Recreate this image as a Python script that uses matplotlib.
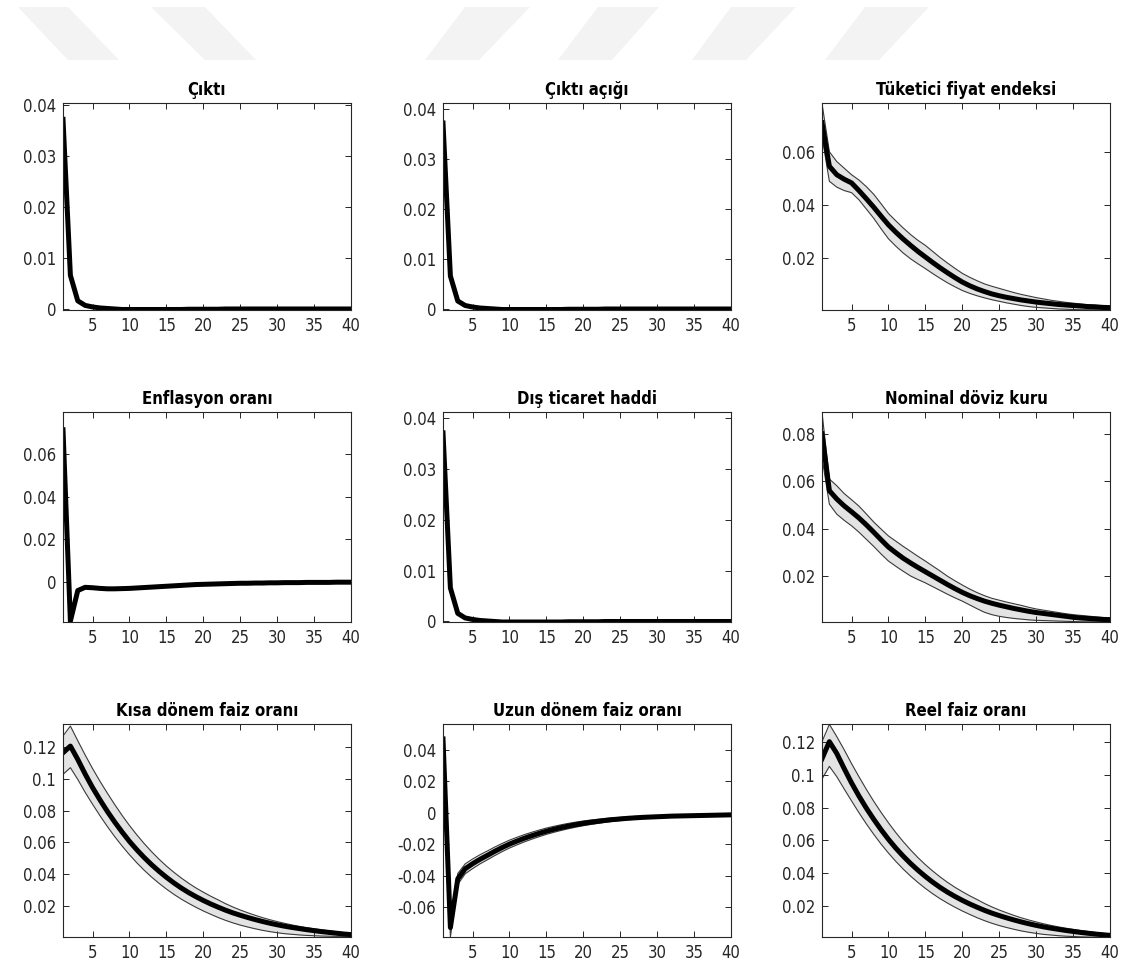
import numpy as np
import matplotlib
matplotlib.use("Agg")
import matplotlib.pyplot as plt
from matplotlib.patches import Polygon

plt.rcParams['font.family'] = ['DejaVu Sans']
plt.rcParams['font.stretch'] = 'condensed'

periods = np.arange(1, 41)

# --- Çıktı / Çıktı açığı / Dış ticaret haddi (bant görünmüyor)
cikti = [0.0372, 0.0066, 0.0016, 0.0007, 0.0004, 0.0002, 0.0001, 0.0, -0.0001, -0.0001,
         -0.0001, -0.0001, -0.0001, -0.0001, -0.0001, -0.0001, -0.0001, -0.00005, -0.00005, -0.00005,
         -0.00005, -0.00005, 0.0, 0.0, 0.0, 0.0, 0.0, 0.0, 0.0, 0.0,
         0.0, 0.0, 0.0, 0.0, 0.0, 0.0, 0.0, 0.0, 0.0, 0.0]
cikti_acigi = [0.0372, 0.0066, 0.0016, 0.0007, 0.0004, 0.0002, 0.0001, 0.0, -0.0001, -0.0001,
               -0.0001, -0.0001, -0.0001, -0.0001, -0.0001, -0.0001, -0.0001, -0.00005, -0.00005, -0.00005,
               -0.00005, -0.00005, 0.0, 0.0, 0.0, 0.0, 0.0, 0.0, 0.0, 0.0,
               0.0, 0.0, 0.0, 0.0, 0.0, 0.0, 0.0, 0.0, 0.0, 0.0]
dis_ticaret = [0.0371, 0.0066, 0.0016, 0.0007, 0.0004, 0.0002, 0.0001, 0.0, -0.0001, -0.0001,
               -0.0001, -0.0001, -0.0001, -0.0001, -0.0001, -0.0001, -0.0001, -0.00005, -0.00005, -0.00005,
               -0.00005, -0.00005, 0.0, 0.0, 0.0, 0.0, 0.0, 0.0, 0.0, 0.0,
               0.0, 0.0, 0.0, 0.0, 0.0, 0.0, 0.0, 0.0, 0.0, 0.0]

# --- Enflasyon oranı
enflasyon = [0.0712, -0.0182, -0.0039, -0.0024, -0.0026, -0.0029, -0.0031, -0.0031, -0.0030, -0.0029,
             -0.0027, -0.0025, -0.0023, -0.0021, -0.0019, -0.0017, -0.0015, -0.0013, -0.0011, -0.0010,
             -0.0009, -0.0008, -0.0007, -0.0006, -0.0005, -0.0005, -0.0004, -0.0004, -0.0003, -0.0003,
             -0.0002, -0.0002, -0.0002, -0.0001, -0.0001, -0.0001, -0.0001, 0.0, 0.0, 0.0]

# --- Tüketici fiyat endeksi
tfe = [0.0712, 0.0547, 0.0515, 0.0498, 0.0484, 0.0455, 0.0424, 0.0392, 0.0358, 0.0325,
       0.0297, 0.0271, 0.0247, 0.0224, 0.0203, 0.0182, 0.0162, 0.0143, 0.0125, 0.0108,
       0.0094, 0.0082, 0.0072, 0.0063, 0.0056, 0.0050, 0.0045, 0.0040, 0.0036, 0.0032,
       0.0029, 0.0026, 0.0023, 0.0021, 0.0019, 0.0017, 0.0015, 0.0014, 0.0012, 0.0011]
tfe_ust = [0.0785, 0.0602, 0.0565, 0.0540, 0.0515, 0.0495, 0.0470, 0.0441, 0.0405, 0.0368,
           0.0340, 0.0313, 0.0288, 0.0266, 0.0247, 0.0224, 0.0201, 0.0180, 0.0160, 0.0141,
           0.0126, 0.0113, 0.0101, 0.0092, 0.0084, 0.0076, 0.0068, 0.0061, 0.0055, 0.0049,
           0.0044, 0.0039, 0.0035, 0.0031, 0.0028, 0.0025, 0.0022, 0.0020, 0.0018, 0.0016]
tfe_alt = [0.0660, 0.0490, 0.0468, 0.0455, 0.0447, 0.0420, 0.0385, 0.0350, 0.0310, 0.0272,
           0.0244, 0.0218, 0.0196, 0.0177, 0.0159, 0.0140, 0.0122, 0.0105, 0.0090, 0.0076,
           0.0065, 0.0056, 0.0048, 0.0041, 0.0035, 0.0029, 0.0024, 0.0019, 0.0015, 0.0012,
           0.0010, 0.0008, 0.0006, 0.0005, 0.0004, 0.0003, 0.0003, 0.0003, 0.0003, 0.0003]

# --- Nominal döviz kuru
ndk = [0.0800, 0.0560, 0.0525, 0.0496, 0.0471, 0.0445, 0.0416, 0.0385, 0.0353, 0.0322,
       0.0298, 0.0275, 0.0255, 0.0236, 0.0218, 0.0200, 0.0182, 0.0164, 0.0147, 0.0131,
       0.0117, 0.0105, 0.0094, 0.0085, 0.0077, 0.0070, 0.0063, 0.0057, 0.0051, 0.0046,
       0.0042, 0.0038, 0.0034, 0.0030, 0.0026, 0.0023, 0.0021, 0.0019, 0.0017, 0.0016]
ndk_ust = [0.0890, 0.0609, 0.0581, 0.0548, 0.0522, 0.0495, 0.0462, 0.0428, 0.0398, 0.0369,
           0.0347, 0.0325, 0.0304, 0.0283, 0.0263, 0.0242, 0.0221, 0.0199, 0.0180, 0.0162,
           0.0145, 0.0130, 0.0117, 0.0106, 0.0098, 0.0090, 0.0083, 0.0076, 0.0068, 0.0061,
           0.0056, 0.0051, 0.0046, 0.0041, 0.0037, 0.0034, 0.0031, 0.0028, 0.0025, 0.0023]
ndk_alt = [0.0700, 0.0503, 0.0461, 0.0435, 0.0412, 0.0385, 0.0355, 0.0325, 0.0293, 0.0263,
           0.0241, 0.0220, 0.0200, 0.0185, 0.0171, 0.0155, 0.0139, 0.0123, 0.0108, 0.0094,
           0.0078, 0.0062, 0.0047, 0.0037, 0.0030, 0.0025, 0.0021, 0.0018, 0.0015, 0.0013,
           0.0012, 0.0011, 0.0010, 0.0009, 0.0008, 0.0007, 0.0007, 0.0007, 0.0007, 0.0007]

# --- Kısa dönem faiz oranı
kisa = [0.1164, 0.1206, 0.1122, 0.1030, 0.0945, 0.0868, 0.0795, 0.0728, 0.0665, 0.0606,
        0.0553, 0.0504, 0.0459, 0.0418, 0.0380, 0.0345, 0.0313, 0.0284, 0.0258, 0.0234,
        0.0212, 0.0192, 0.0173, 0.0156, 0.0141, 0.0127, 0.0114, 0.0102, 0.0091, 0.0081,
        0.0072, 0.0064, 0.0057, 0.0050, 0.0044, 0.0038, 0.0033, 0.0028, 0.0023, 0.0019]
kisa_ust = [0.1270, 0.1332, 0.1240, 0.1150, 0.1065, 0.0985, 0.0910, 0.0838, 0.0770, 0.0706,
            0.0647, 0.0592, 0.0541, 0.0494, 0.0451, 0.0412, 0.0376, 0.0343, 0.0313, 0.0286,
            0.0261, 0.0238, 0.0214, 0.0193, 0.0174, 0.0157, 0.0141, 0.0126, 0.0113, 0.0101,
            0.0090, 0.0080, 0.0071, 0.0063, 0.0056, 0.0049, 0.0043, 0.0037, 0.0031, 0.0026]
kisa_alt = [0.1028, 0.1070, 0.0996, 0.0915, 0.0840, 0.0768, 0.0700, 0.0636, 0.0577, 0.0522,
            0.0471, 0.0424, 0.0381, 0.0342, 0.0306, 0.0273, 0.0243, 0.0216, 0.0191, 0.0168,
            0.0147, 0.0127, 0.0109, 0.0093, 0.0079, 0.0067, 0.0056, 0.0046, 0.0038, 0.0031,
            0.0025, 0.0021, 0.0017, 0.0014, 0.0012, 0.0010, 0.0009, 0.0008, 0.0008, 0.0008]

# --- Uzun dönem faiz oranı
uzun = [0.0470, -0.0730, -0.0420, -0.0356, -0.0324, -0.0296, -0.0271, -0.0245, -0.0221, -0.0199,
        -0.0180, -0.0162, -0.0146, -0.0131, -0.0117, -0.0105, -0.0094, -0.0084, -0.0075, -0.0067,
        -0.0060, -0.0054, -0.0048, -0.0043, -0.0039, -0.0035, -0.0032, -0.0029, -0.0027, -0.0025,
        -0.0023, -0.0021, -0.0020, -0.0019, -0.0018, -0.0017, -0.0016, -0.0015, -0.0014, -0.0013]
uzun_ust = [0.0500, -0.0670, -0.0386, -0.0325, -0.0294, -0.0267, -0.0243, -0.0218, -0.0195, -0.0174,
            -0.0156, -0.0139, -0.0124, -0.0110, -0.0097, -0.0086, -0.0076, -0.0067, -0.0059, -0.0052,
            -0.0046, -0.0041, -0.0036, -0.0032, -0.0029, -0.0026, -0.0023, -0.0021, -0.0019, -0.0017,
            -0.0016, -0.0015, -0.0014, -0.0013, -0.0012, -0.0011, -0.0010, -0.0009, -0.0009, -0.0008]
uzun_alt = [0.0440, -0.0790, -0.0455, -0.0388, -0.0355, -0.0325, -0.0299, -0.0272, -0.0247, -0.0224,
            -0.0204, -0.0185, -0.0168, -0.0152, -0.0137, -0.0124, -0.0112, -0.0101, -0.0091, -0.0082,
            -0.0074, -0.0067, -0.0060, -0.0054, -0.0049, -0.0044, -0.0041, -0.0037, -0.0035, -0.0033,
            -0.0030, -0.0027, -0.0026, -0.0025, -0.0024, -0.0023, -0.0022, -0.0021, -0.0019, -0.0018]

# --- Reel faiz oranı
reel = [0.1100, 0.1204, 0.1132, 0.1040, 0.0952, 0.0872, 0.0798, 0.0730, 0.0666, 0.0607,
        0.0553, 0.0504, 0.0459, 0.0418, 0.0380, 0.0345, 0.0313, 0.0284, 0.0258, 0.0234,
        0.0212, 0.0192, 0.0173, 0.0156, 0.0141, 0.0127, 0.0114, 0.0102, 0.0091, 0.0081,
        0.0072, 0.0064, 0.0057, 0.0050, 0.0044, 0.0038, 0.0033, 0.0028, 0.0024, 0.0020]
reel_ust = [0.1204, 0.1310, 0.1235, 0.1155, 0.1070, 0.0990, 0.0913, 0.0840, 0.0772, 0.0708,
            0.0648, 0.0593, 0.0542, 0.0495, 0.0452, 0.0413, 0.0377, 0.0344, 0.0314, 0.0287,
            0.0262, 0.0239, 0.0215, 0.0194, 0.0175, 0.0158, 0.0142, 0.0127, 0.0114, 0.0102,
            0.0091, 0.0081, 0.0072, 0.0064, 0.0057, 0.0050, 0.0044, 0.0038, 0.0032, 0.0027]
reel_alt = [0.0976, 0.1053, 0.0990, 0.0915, 0.0842, 0.0770, 0.0702, 0.0638, 0.0578, 0.0523,
            0.0472, 0.0425, 0.0382, 0.0343, 0.0307, 0.0274, 0.0244, 0.0217, 0.0192, 0.0169,
            0.0148, 0.0128, 0.0110, 0.0094, 0.0080, 0.0068, 0.0057, 0.0047, 0.0039, 0.0032,
            0.0026, 0.0022, 0.0018, 0.0015, 0.0013, 0.0011, 0.0010, 0.0009, 0.0009, 0.0009]

titles = ['Çıktı', 'Çıktı açığı', 'Tüketici fiyat endeksi',
          'Enflasyon oranı', 'Dış ticaret haddi', 'Nominal döviz kuru',
          'Kısa dönem faiz oranı', 'Uzun dönem faiz oranı', 'Reel faiz oranı']
means = [cikti, cikti_acigi, tfe, enflasyon, dis_ticaret, ndk, kisa, uzun, reel]
uppers = [None, None, tfe_ust, None, None, ndk_ust, kisa_ust, uzun_ust, reel_ust]
lowers = [None, None, tfe_alt, None, None, ndk_alt, kisa_alt, uzun_alt, reel_alt]
ylims = [(-0.0002, 0.0404), (-0.0002, 0.0412), (0.0002, 0.0787),
         (-0.0186, 0.0795), (-0.0001, 0.0412), (0.0006, 0.0892),
         (0.0004, 0.1345), (-0.079, 0.0565), (0.001, 0.1312)]
yticks = [[0, 0.01, 0.02, 0.03, 0.04], [0, 0.01, 0.02, 0.03, 0.04], [0.02, 0.04, 0.06],
          [0, 0.02, 0.04, 0.06], [0, 0.01, 0.02, 0.03, 0.04], [0.02, 0.04, 0.06, 0.08],
          [0.02, 0.04, 0.06, 0.08, 0.1, 0.12], [-0.06, -0.04, -0.02, 0, 0.02, 0.04],
          [0.02, 0.04, 0.06, 0.08, 0.1, 0.12]]
xticks = [5, 10, 15, 20, 25, 30, 35, 40]

W, H = 1124, 969
fig = plt.figure(figsize=(W / 100, H / 100), dpi=100)

# arka plandaki soluk filigran
wm = [[(18, 7), (68, 7), (119, 60), (68, 60)],
      [(151, 7), (205, 7), (256, 60), (205, 60)],
      [(465, 7), (530, 7), (479, 60), (425, 60)],
      [(598, 7), (659, 7), (612, 60), (558, 60)],
      [(731, 7), (796, 7), (746, 60), (692, 60)],
      [(865, 7), (929, 7), (879, 60), (825, 60)]]
for pts in wm:
    fig.add_artist(Polygon([(x / W, 1 - y / H) for x, y in pts], closed=True,
                           transform=fig.transFigure, facecolor='#f3f3f3', edgecolor='none'))

col_left = [63, 443, 822]
col_w = 288
row_top = [103, 412, 724]
row_bot = [310, 622, 937]

dark = '#262626'
for i in range(9):
    r, c = divmod(i, 3)
    ax = fig.add_axes([col_left[c] / W, 1 - row_bot[r] / H, col_w / W, (row_bot[r] - row_top[r]) / H])
    if uppers[i] is not None:
        ax.fill_between(periods, lowers[i], uppers[i], color='#e3e3e3', linewidth=0)
        ax.plot(periods, uppers[i], color='#3a3a3a', lw=0.8)
        ax.plot(periods, lowers[i], color='#3a3a3a', lw=0.8)
    ax.plot(periods, means[i], color='black', lw=3.6, solid_joinstyle='round')
    ax.set_xlim(1, 40)
    ax.set_ylim(*ylims[i])
    ax.set_xticks(xticks)
    ax.set_yticks(yticks[i])
    ax.set_yticklabels(['%g' % v for v in yticks[i]])
    ax.tick_params(direction='in', top=True, right=True, length=4, width=0.7,
                   labelsize=12, colors=dark, pad=5)
    for s in ax.spines.values():
        s.set_color(dark)
        s.set_linewidth(0.8)
    ax.set_title(titles[i], fontsize=12, fontweight='bold', pad=6)

fig.savefig('out.png', dpi=100)
